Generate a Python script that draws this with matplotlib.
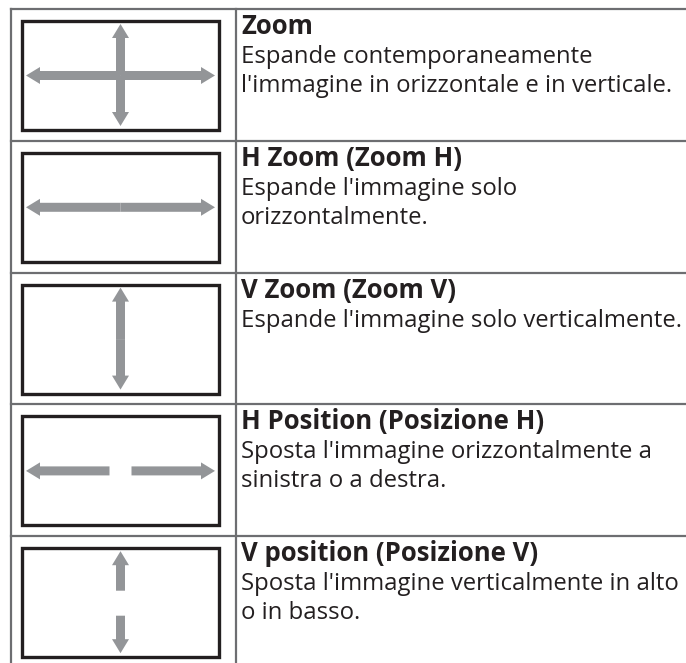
import matplotlib.pyplot as plt
from matplotlib.patches import Rectangle, FancyArrow

# Table contents
titles = ["Zoom", "H Zoom (Zoom H)", "V Zoom (Zoom V)",
          "H Position (Posizione H)", "V position (Posizione V)"]
descriptions = [
    ["Espande contemporaneamente", "l'immagine in orizzontale e in verticale."],
    ["Espande l'immagine solo", "orizzontalmente."],
    ["Espande l'immagine solo verticalmente."],
    ["Sposta l'immagine orizzontalmente a", "sinistra o a destra."],
    ["Sposta l'immagine verticalmente in alto", "o in basso."],
]
# which arrows each icon shows
arrow_kinds = ["hv", "h", "v", "h_split", "v_split"]

W, H = 686, 663
table_left, col_split = 11, 236
row_top0, row_h = 9, 131.8
line_col = '#6d6e71'
arrow_col = '#939598'
text_col = '#231f20'

fig = plt.figure(figsize=(W / 100, H / 100), dpi=100)
ax = fig.add_axes([0, 0, 1, 1])
ax.set_xlim(0, W)
ax.set_ylim(H, 0)
ax.axis('off')


def arrow(x0, y0, x1, y1):
    ax.add_patch(FancyArrow(x0, y0, x1 - x0, y1 - y0, width=9, head_width=17,
                            head_length=14, length_includes_head=True,
                            color=arrow_col, lw=0))


# grid lines
ax.plot([table_left, table_left], [row_top0, H], color=line_col, lw=1.6)
ax.plot([col_split, col_split], [row_top0, H], color=line_col, lw=1.6)
for i in range(len(titles)):
    y = row_top0 + i * row_h
    ax.plot([table_left, W], [y, y], color=line_col, lw=1.6)

for i, (title, desc, kind) in enumerate(zip(titles, descriptions, arrow_kinds)):
    top = row_top0 + i * row_h
    bx0, bx1 = 22, 219
    by0, by1 = top + 12, top + 121
    ax.add_patch(Rectangle((bx0, by0), bx1 - bx0, by1 - by0, fill=False,
                           ec='#231f20', lw=2.4))
    cx, cy = (bx0 + bx1) / 2, (by0 + by1) / 2
    xl, xr = bx0 + 4, bx1 - 4
    yt, yb = by0 + 3, by1 - 4
    if kind in ("hv", "h"):
        arrow(cx, cy, xl, cy)
        arrow(cx, cy, xr, cy)
    if kind in ("hv", "v"):
        arrow(cx, cy, cx, yt)
        arrow(cx, cy, cx, yb)
    if kind == "h_split":
        arrow(cx - 11, cy, xl, cy)
        arrow(cx + 11, cy, xr, cy)
    if kind == "v_split":
        arrow(cx, cy - 12, cx, yt)
        arrow(cx, cy + 13, cx, yb)

    ax.text(241, top + 25, title, fontsize=18.5, fontweight='bold',
            family='Open Sans', color=text_col, va='baseline')
    for j, line in enumerate(desc):
        ax.text(241, top + 25 + 29 * (j + 1), line, fontsize=17.2,
                family='Open Sans', color=text_col, va='baseline')

fig.savefig('out.png', dpi=100)
